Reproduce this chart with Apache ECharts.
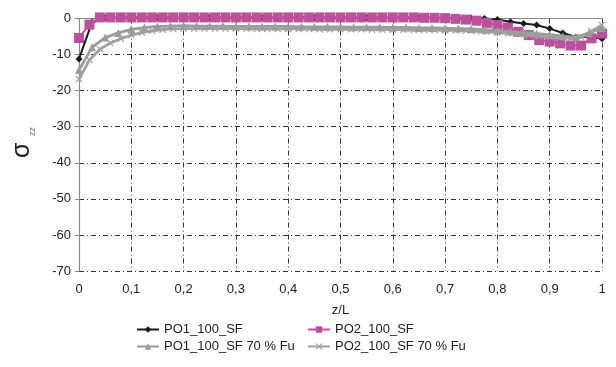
<!DOCTYPE html>
<html>
<head>
<meta charset="utf-8">
<script src="https://cdn.jsdelivr.net/npm/echarts@6/dist/echarts.min.js"></script>
<style>html,body{margin:0;padding:0;background:#fff}#c{width:616px;height:367px}</style>
</head>
<body>
<div id="c"></div>
<script>
// x positions
const xPO1 = [0,0.025,0.05,0.075,0.1,0.125,0.15,0.175,0.2,0.225,0.25,0.275,0.3,0.325,0.35,0.375,0.4,0.425,0.45,0.475,0.5,0.525,0.55,0.575,0.6,0.625,0.65,0.675,0.7,0.725,0.75,0.775,0.8,0.825,0.85,0.875,0.9,0.925,0.95,0.975,1];
const xPO2 = [0,0.02,0.04,0.06,0.08,0.1,0.12,0.14,0.16,0.18,0.2,0.22,0.24,0.26,0.28,0.3,0.32,0.34,0.36,0.38,0.4,0.42,0.44,0.46,0.48,0.5,0.52,0.54,0.56,0.58,0.6,0.62,0.64,0.66,0.68,0.7,0.72,0.74,0.76,0.78,0.8,0.82,0.84,0.86,0.88,0.9,0.92,0.94,0.96,0.98,1];
// series values
const po1 = [-11.2,-1.0,0.2,0.2,0.2,0.2,0.2,0.2,0.2,0.2,0.2,0.2,0.2,0.2,0.2,0.2,0.2,0.2,0.2,0.2,0.2,0.2,0.2,0.2,0.2,0.2,0.2,0.2,0.2,0.1,0.1,0.0,-0.3,-0.9,-1.4,-1.8,-2.8,-4.0,-5.1,-5.0,-5.6];
const po2 = [-5.4,-1.7,0.3,0.3,0.3,0.3,0.3,0.3,0.3,0.3,0.3,0.3,0.3,0.3,0.3,0.3,0.3,0.3,0.3,0.3,0.3,0.3,0.3,0.3,0.3,0.3,0.3,0.3,0.3,0.3,0.3,0.3,0.3,0.2,0.2,0.1,-0.1,-0.3,-0.6,-1.2,-1.8,-2.5,-3.7,-4.6,-6.0,-6.4,-6.9,-7.5,-7.5,-5.5,-4.2];
const po1Fu = [-14.3,-8.0,-5.3,-4.0,-3.0,-2.5,-2.2,-2.1,-2.0,-2.1,-2.1,-2.1,-2.2,-2.2,-2.2,-2.2,-2.2,-2.3,-2.3,-2.3,-2.3,-2.4,-2.4,-2.4,-2.5,-2.5,-2.6,-2.6,-2.7,-2.8,-2.9,-3.1,-3.3,-3.6,-3.9,-4.2,-4.5,-4.9,-5.2,-4.0,-2.6];
const po2Fu = [-16.8,-11.5,-8.5,-6.8,-5.6,-4.6,-3.9,-3.4,-3.1,-2.9,-2.8,-2.8,-2.8,-2.8,-2.8,-2.8,-2.8,-2.9,-2.9,-2.9,-2.9,-2.9,-2.9,-3.0,-3.0,-3.0,-3.0,-3.0,-3.1,-3.1,-3.1,-3.1,-3.2,-3.2,-3.2,-3.3,-3.3,-3.4,-3.5,-3.7,-3.9,-4.1,-4.3,-4.6,-4.9,-5.1,-5.3,-5.5,-5.2,-3.5,-1.8];
const names = ['PO1_100_SF','PO2_100_SF','PO1_100_SF 70 % Fu','PO2_100_SF 70 % Fu'];
const yTicks = {min:-70, max:0, interval:10};
const xTicks = {min:0, max:1, interval:0.1};

const pair = (xs, ys) => xs.map((x,i)=>[x, ys[i]]);
const X_PATH = 'path://M0,1.2L1.2,0L5,3.8L8.8,0L10,1.2L6.2,5L10,8.8L8.8,10L5,6.2L1.2,10L0,8.8L3.8,5Z';
const dashDot = {color:'#333', width:1, type:[5,3,1,3]};
const FF = 'Liberation Sans, Arial, sans-serif';

const chart = echarts.init(document.getElementById('c'), null, {renderer:'canvas'});
chart.setOption({
  animation:false,
  textStyle:{fontFamily:FF},
  grid:{left:79, right:14, top:18.5, bottom:96, containLabel:false},
  xAxis:[{
    type:'value', min:xTicks.min, max:xTicks.max, interval:xTicks.interval,
    name:'z/L', nameLocation:'middle', nameGap:33,
    nameTextStyle:{fontSize:13, color:'#222'},
    axisLine:{show:false, onZero:false}, axisTick:{show:false},
    axisLabel:{fontSize:13, color:'#222', margin:12, formatter:v=>String(+v.toFixed(1)).replace('.',',')},
    splitLine:{show:true, lineStyle:dashDot, showMinLine:false, showMaxLine:true}
  },{
    type:'value', position:'top', min:xTicks.min, max:xTicks.max, interval:xTicks.interval,
    axisLine:{show:true, lineStyle:{color:'#8a8a8a', width:1.2}}, axisTick:{show:false},
    axisLabel:{show:false}, splitLine:{show:false}
  }],
  yAxis:{
    type:'value', min:yTicks.min, max:yTicks.max, interval:yTicks.interval,
    axisLine:{show:true, lineStyle:{color:'#8a8a8a', width:1.2}},
    axisTick:{show:true, length:4, lineStyle:{color:'#8a8a8a'}},
    axisLabel:{fontSize:13, color:'#222', margin:8},
    splitLine:{show:true, lineStyle:dashDot, showMinLine:true, showMaxLine:false}
  },
  graphic:[
    {type:'text', x:10, y:158, rotation:Math.PI/2, style:{text:'σ', fontSize:25, fill:'#222', fontFamily:FF}},
    {type:'text', x:28, y:136, rotation:Math.PI/2, style:{text:'zz', fontSize:9, fill:'#777', fontFamily:FF}}
  ],
  legend:[
    {orient:'vertical', left:131, top:318, itemGap:4, itemWidth:22, itemHeight:8,
     textStyle:{fontSize:13, color:'#222'}, data:[names[0], names[2]]},
    {orient:'vertical', left:302, top:318, itemGap:4, itemWidth:22, itemHeight:8,
     textStyle:{fontSize:13, color:'#222'}, data:[names[1], names[3]]}
  ],
  series:[
    {name:names[0], type:'line', data:pair(xPO1, po1), symbol:'diamond', symbolSize:7, showAllSymbol:true, clip:false,
     itemStyle:{color:'#1a1a1a'}, lineStyle:{color:'#1a1a1a', width:2}, z:2},
    {name:names[1], type:'line', data:pair(xPO2, po2), symbol:'rect', symbolSize:10, showAllSymbol:true, clip:false,
     itemStyle:{color:'#bb509d'}, lineStyle:{color:'#bb509d', width:2}, z:3},
    {name:names[2], type:'line', data:pair(xPO1, po1Fu), symbol:'triangle', symbolSize:8, showAllSymbol:true, clip:false,
     itemStyle:{color:'#9b9b9b'}, lineStyle:{color:'#9b9b9b', width:2.8}, z:4},
    {name:names[3], type:'line', data:pair(xPO2, po2Fu), symbol:X_PATH, symbolSize:7, showAllSymbol:true, clip:false,
     itemStyle:{color:'#a0a0a0'}, lineStyle:{color:'#a0a0a0', width:2.8}, z:4}
  ]
});
</script>
</body>
</html>
